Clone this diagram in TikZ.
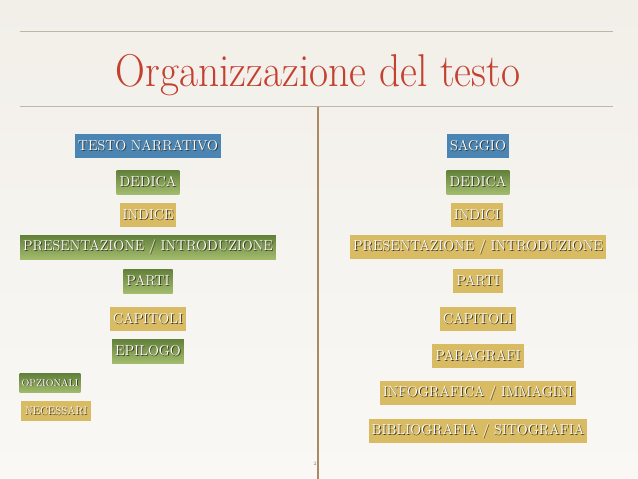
\documentclass[tikz,border=0pt]{standalone}
\usepackage{graphicx}
\definecolor{bgtop}{HTML}{F2EFE9}
\definecolor{bgbot}{HTML}{F9F8F5}
\definecolor{rulec}{HTML}{BEB6A8}
\definecolor{titlec}{HTML}{C4402F}
\definecolor{divc}{HTML}{A98A63}
\definecolor{blueb}{HTML}{4A85B3}
\definecolor{greentop}{HTML}{62803A}
\definecolor{greenbot}{HTML}{A2BC6C}
\definecolor{yellowb}{HTML}{D8BB62}
\definecolor{shad}{HTML}{3E3628}
\newcommand{\shtext}[1]{\rlap{\kern0.9pt\raisebox{-0.9pt}{\color{shad}#1}}{\color{white}#1}}
\begin{document}
\begin{tikzpicture}[x=1pt,y=-1pt,
  box/.style={inner xsep=3pt, inner ysep=0pt, minimum height=24pt, font=\fontsize{14.3}{16}\selectfont},
  bluebox/.style={box, fill=blueb},
  greenbox/.style={box, top color=greentop, bottom color=greenbot},
  yellowbox/.style={box, fill=yellowb},
  smallbox/.style={minimum height=19pt, font=\fontsize{10}{12}\selectfont, inner xsep=2pt}]
\useasboundingbox (0,0) rectangle (638,479);
\fill[top color=bgtop, bottom color=bgbot] (0,0) rectangle (638,479);
\draw[rulec, line width=0.8pt] (20,31) -- (613,31);
\draw[rulec, line width=0.8pt] (20,106) -- (613,106);
\node[text=titlec, font=\fontsize{46}{50}\selectfont, anchor=base, inner sep=0pt] (title) at (318,86) {\scalebox{0.9}[1]{Organizzazione del testo}};
\draw[divc, line width=2.5pt] (318,107) -- (318,479);
\node[text=gray, font=\fontsize{5}{6}\selectfont, inner sep=0pt] (pg) at (315,464) {2};
% left column
\node[bluebox] (l0) at (148,146) {\shtext{TESTO NARRATIVO}};
\node[greenbox] (l1) at (148,182) {\shtext{DEDICA}};
\node[yellowbox] (l2) at (148,215) {\shtext{INDICE}};
\node[greenbox] (l3) at (148,247) {\shtext{PRESENTAZIONE / INTRODUZIONE}};
\node[greenbox] (l4) at (148,281) {\shtext{PARTI}};
\node[yellowbox] (l5) at (148,319) {\shtext{CAPITOLI}};
\node[greenbox] (l6) at (148,351) {\shtext{EPILOGO}};
\node[greenbox, smallbox] (k1) at (50,383) {\shtext{OPZIONALI}};
\node[yellowbox, smallbox, minimum height=20pt, font=\fontsize{11}{13}\selectfont, inner xsep=4pt] (k2) at (56,411) {\shtext{NECESSARI}};
% right column
\node[bluebox] (r0) at (478,146) {\shtext{SAGGIO}};
\node[greenbox] (r1) at (478,182) {\shtext{DEDICA}};
\node[yellowbox] (r2) at (477,215) {\shtext{INDICI}};
\node[yellowbox] (r3) at (478,247) {\shtext{PRESENTAZIONE / INTRODUZIONE}};
\node[yellowbox] (r4) at (478,281) {\shtext{PARTI}};
\node[yellowbox] (r5) at (478,319) {\shtext{CAPITOLI}};
\node[yellowbox] (r6) at (478,356) {\shtext{PARAGRAFI}};
\node[yellowbox] (r7) at (478,393) {\shtext{INFOGRAFICA / IMMAGINI}};
\node[yellowbox] (r8) at (478,431) {\shtext{BIBLIOGRAFIA / SITOGRAFIA}};
\end{tikzpicture}
\end{document}
